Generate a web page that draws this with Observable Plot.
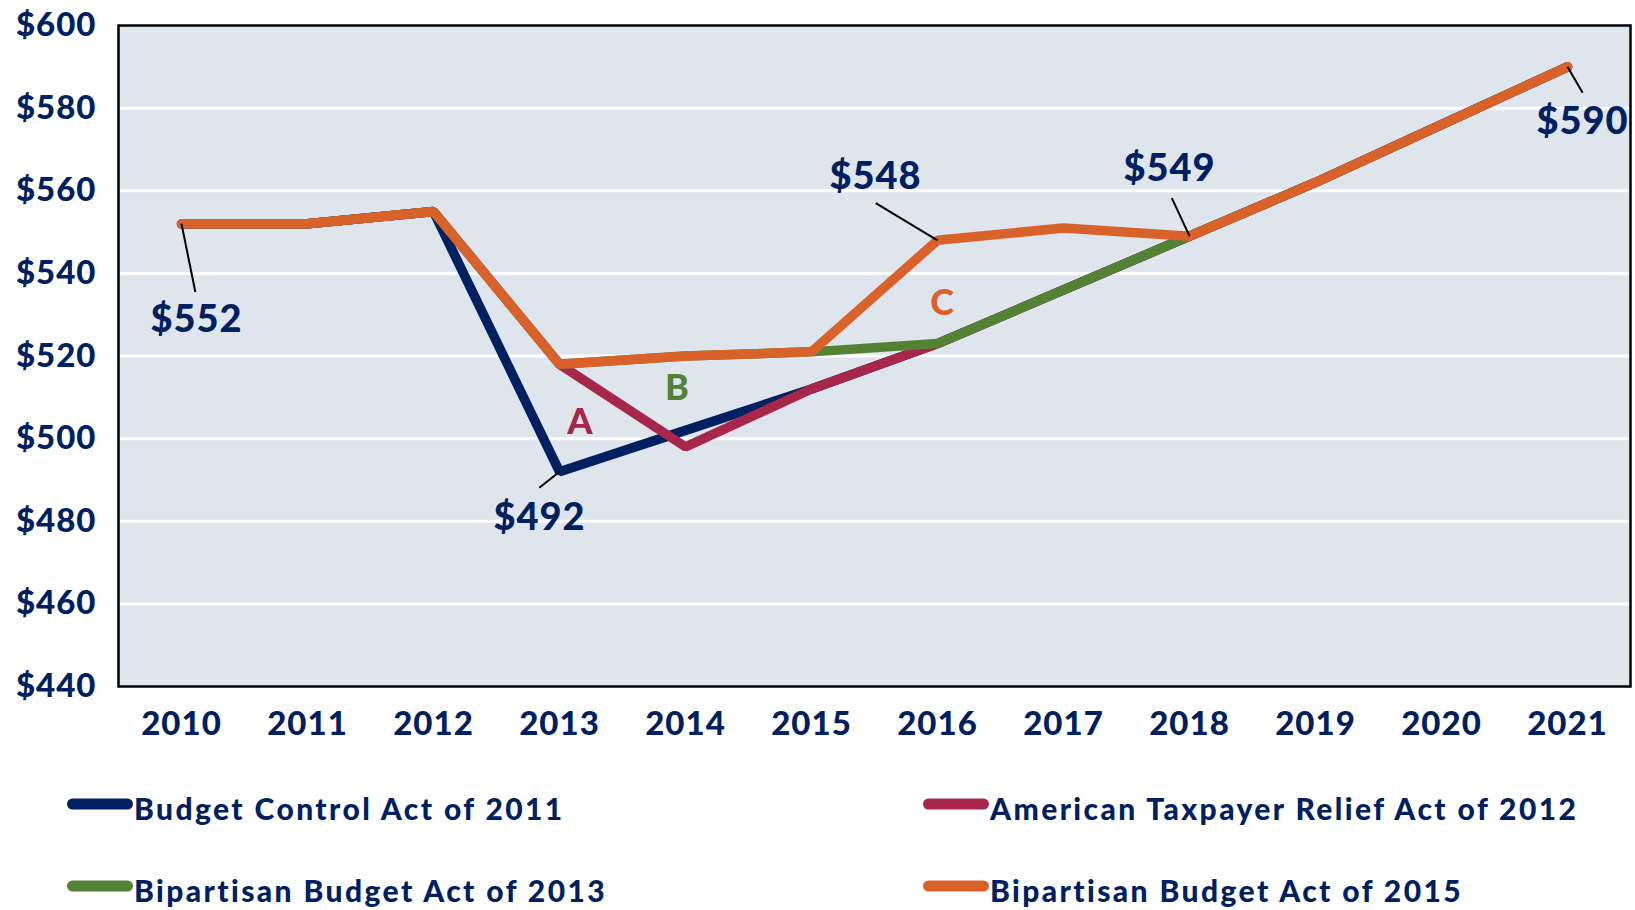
<!DOCTYPE html>
<html>
<head>
<meta charset="utf-8">
<script src="https://cdn.jsdelivr.net/npm/d3@7"></script>
<script src="https://cdn.jsdelivr.net/npm/@observablehq/plot@0.6"></script>
<style>
  html, body { margin: 0; padding: 0; background: #ffffff; }
  #wrap { width: 1635px; height: 910px; overflow: hidden; }
  #chart svg, #legend svg { display: block; }
</style>
</head>
<body>
<div id="wrap">
  <div id="chart"></div>
  <div id="legend"></div>
</div>
<script>
// ---------------- DATA ----------------
const years = [2010, 2011, 2012, 2013, 2014, 2015, 2016, 2017, 2018, 2019, 2020, 2021];
const seriesNames = [
  "Budget Control Act of 2011",
  "American Taxpayer Relief Act of 2012",
  "Bipartisan Budget Act of 2013",
  "Bipartisan Budget Act of 2015"
];
const bca2011  = [552, 552, 555, 492, 502, 512, 523, 536, 549, 562, 576, 590];
const atra2012 = [552, 552, 555, 518, 498, 512, 523, 536, 549, 562, 576, 590];
const bba2013  = [552, 552, 555, 518, 520, 521, 523, 536, 549, 562, 576, 590];
const bba2015  = [552, 552, 555, 518, 520, 521, 548, 551, 549, 562, 576, 590];
const yTicks = [440, 460, 480, 500, 520, 540, 560, 580, 600];
// value callouts: [series index, year]
const calloutSeries = [3, 0, 3, 3, 3];
const calloutYears  = [2010, 2013, 2016, 2018, 2021];
// letter markers: letter, series index, anchor year
const letters       = ["A", "B", "C"];
const letterSeries  = [1, 2, 3];
const letterYears   = [2013, 2014, 2016];

// ---------------- STYLE / LAYOUT ----------------
const colors = ["#002060", "#A7264A", "#548235", "#D9622B"];
const navy = "#002060";
const font = "Lato, 'Open Sans', sans-serif";
// text offsets (px) and leader-line end offsets (data units: years, value)
const calloutLayout = [
  {dx: 15,  dy: 96,  lx: 0.11,  ly: -16.5},
  {dx: -20, dy: 46,  lx: -0.16, ly: -3.9},
  {dx: -62, dy: -63, lx: -0.49, ly: 9},
  {dx: -20, dy: -67, lx: -0.14, ly: 9.2},
  {dx: 15,  dy: 55,  lx: 0.12,  ly: -6.3}
];
const letterLayout = [
  {dx: 21, dy: 58},
  {dx: -8, dy: 32},
  {dx: 5,  dy: 63}
];

const allSeries = [bca2011, atra2012, bba2013, bba2015];
const rows = (vals) => years.map((y, i) => ({year: y, value: vals[i]}));

const callouts = calloutSeries.map((s, i) => {
  const yr = calloutYears[i];
  const v = allSeries[s][years.indexOf(yr)];
  const L = calloutLayout[i];
  return {year: yr, value: v, label: "$" + v, dx: L.dx, dy: L.dy, x2: yr + L.lx, y2: v + L.ly};
});
const letterRows = letters.map((t, i) => {
  const yr = letterYears[i];
  return {year: yr, value: allSeries[letterSeries[i]][years.indexOf(yr)], label: t, color: colors[letterSeries[i]], ...letterLayout[i]};
});

const lineMarks = allSeries.map((vals, i) =>
  Plot.line(rows(vals), {
    x: "year", y: "value", stroke: colors[i], strokeWidth: 9.5,
    strokeLinecap: "round", strokeLinejoin: "miter"
  })
);

const chart = Plot.plot({
  width: 1635,
  height: 770,
  marginLeft: 118,
  marginRight: 5,
  marginTop: 25,
  marginBottom: 84,
  x: {type: "linear", domain: [2009.5, 2021.5], ticks: years, tickFormat: d => String(d), tickSize: 0, tickPadding: 25, label: null},
  y: {domain: [440, 600], ticks: yTicks, tickFormat: d => "$" + d, tickSize: 0, tickPadding: 22, label: null},
  style: {fontFamily: font, fontSize: "33px", fontWeight: 900, letterSpacing: "1px", color: navy, background: "white", overflow: "visible"},
  marks: [
    Plot.frame({fill: "#DEE5EC"}),
    Plot.ruleY(yTicks.slice(1, -1), {stroke: "white", strokeWidth: 3}),
    ...lineMarks,
    Plot.link(callouts, {x1: "year", y1: "value", x2: "x2", y2: "y2", stroke: "black", strokeWidth: 2}),
    ...callouts.map(c => Plot.text([c], {x: "year", y: "value", text: "label", dx: c.dx, dy: c.dy, fill: navy, fontSize: 38, fontWeight: 900, fontFamily: font})),
    ...letterRows.map(c => Plot.text([c], {x: "year", y: "value", text: "label", dx: c.dx, dy: c.dy, fill: c.color, fontSize: 36, fontWeight: 900, fontFamily: font})),
    Plot.frame({stroke: "black", strokeWidth: 2.5})
  ]
});
document.getElementById("chart").appendChild(chart);

// ---------------- LEGEND ----------------
const legendCols = [67, 923];
const legendRows = [34, 116];
const legendOrder = [0, 1, 2, 3]; // row-major: (r0,c0),(r0,c1),(r1,c0),(r1,c1)
const lsvg = d3.select("#legend").append("svg").attr("width", 1635).attr("height", 140);
legendOrder.forEach((s, k) => {
  const cx = legendCols[k % 2], cy = legendRows[Math.floor(k / 2)];
  const g = lsvg.append("g");
  g.append("line").attr("x1", cx + 5.5).attr("x2", cx + 60.5).attr("y1", cy).attr("y2", cy)
    .attr("stroke", colors[s]).attr("stroke-width", 11).attr("stroke-linecap", "round");
  g.append("text").attr("x", cx + 67).attr("y", cy + 16)
    .attr("fill", navy).attr("font-family", font).attr("font-weight", 900).attr("font-size", 30)
    .attr("letter-spacing", "2.4px")
    .text(seriesNames[s]);
});
</script>
</body>
</html>
